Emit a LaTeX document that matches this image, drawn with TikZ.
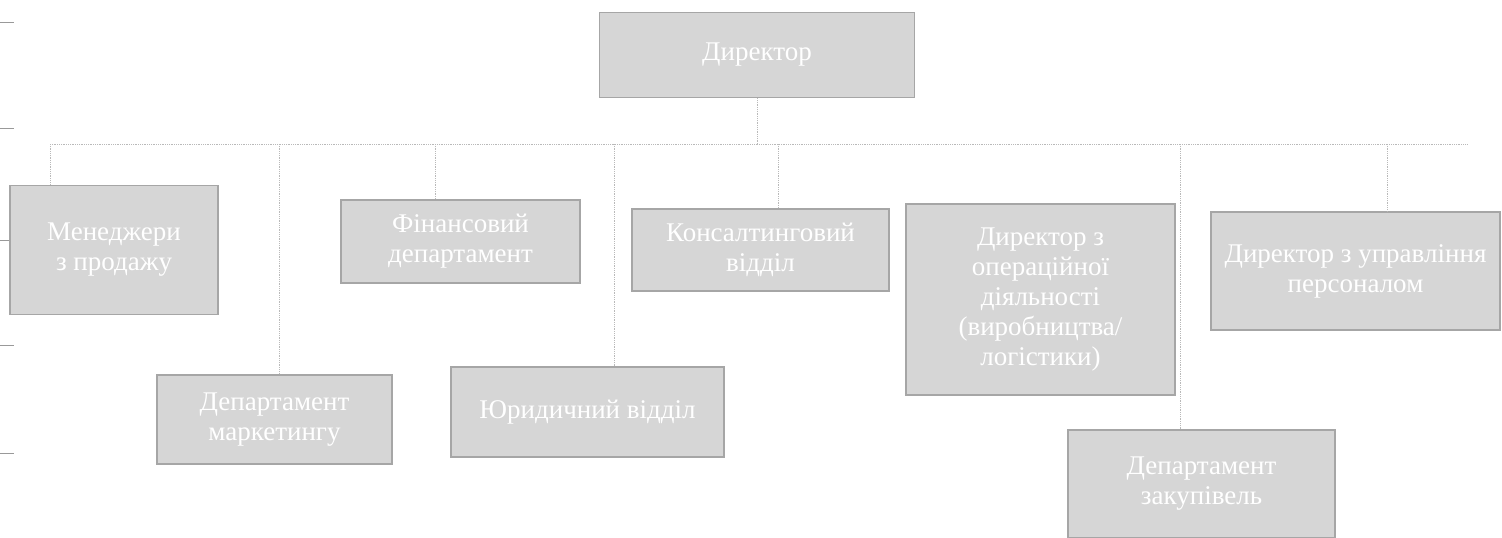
\documentclass[tikz,border=0pt]{standalone}
\usepackage{fontspec}
\setmainfont{Liberation Serif}
\begin{document}
\begin{tikzpicture}[x=1pt,y=-1pt,
  box/.style={draw=gray!70, line width=1.2pt, fill=gray!32, text=white,
    font=\fontsize{27}{30}\selectfont, align=center, inner sep=0pt},
  conn/.style={draw=gray!55, line width=0.8pt, densely dotted},
  tick/.style={draw=gray!80, line width=1pt}]
\useasboundingbox (0,0) rectangle (1502,538);
% boxes
\node[box, minimum width=315, minimum height=85] (dir) at (757,55) {Директор};
\node[box, minimum width=208, minimum height=129] (mgr) at (114,250) {Менеджери\\з продажу};
\node[box, minimum width=239, minimum height=83] (fin) at (460.5,241.5) {Фінансовий\\департамент};
\node[box, minimum width=257, minimum height=82] (cons) at (760.5,250) {Консалтинговий\\відділ};
\node[box, minimum width=269, minimum height=191] (ops) at (1040.5,299.5) {Директор з\\операційної\\діяльності\\(виробництва/\\логістики)};
\node[box, minimum width=289, minimum height=118] (hr) at (1355.5,271) {Директор з управління\\персоналом};
\node[box, minimum width=235, minimum height=89] (mkt) at (274.5,419.5) {Департамент\\маркетингу};
\node[box, minimum width=273, minimum height=90] (law) at (587.5,412) {Юридичний відділ};
\node[box, minimum width=267, minimum height=108] (proc) at (1201.5,484) {Департамент\\закупівель};
% bus coordinates
\coordinate (bl) at (50,144);
\coordinate (br) at (1468,144);
\coordinate (bd) at (757,144);
\coordinate (bm) at (279,144);
\coordinate (bf) at (435,144);
\coordinate (bj) at (614,144);
\coordinate (bc) at (778,144);
\coordinate (bp) at (1180,144);
\coordinate (bh) at (1387,144);
% connectors
\draw[conn] (dir.south) -- (bd);
\draw[conn] (bl) -- (br);
\draw[conn] (bl) -- (bl |- mgr.north);
\draw[conn] (bm) -- (bm |- mkt.north);
\draw[conn] (bf) -- (bf |- fin.north);
\draw[conn] (bj) -- (bj |- law.north);
\draw[conn] (bc) -- (bc |- cons.north);
\draw[conn] (bp) -- (bp |- proc.north);
\draw[conn] (bh) -- (bh |- hr.north);
% left-edge marks
\coordinate (m1) at (0,22);
\coordinate (m2) at (0,128);
\coordinate (m3) at (0,240);
\coordinate (m4) at (0,345);
\coordinate (m5) at (0,453);
\draw[tick] (m1) -- ++(14,0);
\draw[tick] (m2) -- ++(14,0);
\draw[tick] (m3) -- (m3 -| mgr.west);
\draw[tick] (m4) -- ++(14,0);
\draw[tick] (m5) -- ++(14,0);
\end{tikzpicture}
\end{document}
